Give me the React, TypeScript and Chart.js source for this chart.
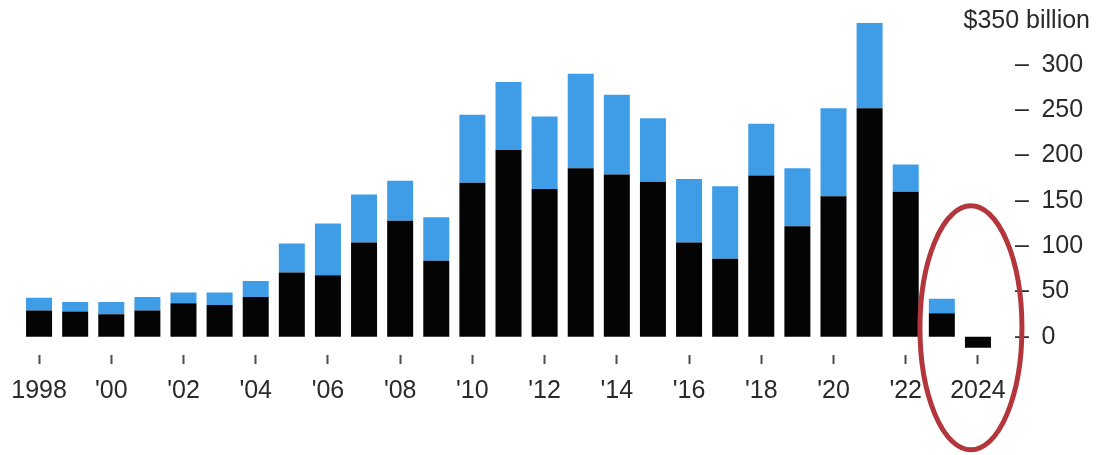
import React, { useEffect, useRef } from 'react';
import { Chart, registerables } from 'chart.js';

Chart.register(...registerables);

const years = [
  '1998', '1999', '2000', '2001', '2002', '2003', '2004', '2005', '2006',
  '2007', '2008', '2009', '2010', '2011', '2012', '2013', '2014', '2015',
  '2016', '2017', '2018', '2019', '2020', '2021', '2022', '2023', '2024',
];
const xTickLabels = [
  '1998', '', "'00", '', "'02", '', "'04", '', "'06", '', "'08", '', "'10", '',
  "'12", '', "'14", '', "'16", '', "'18", '', "'20", '', "'22", '', '2024',
];
// lower (black) segment, $ billion
const blackValues = [
  29, 28, 25, 29, 37, 35, 44, 71, 68, 104, 128, 84, 170, 206, 163, 186, 179,
  171, 104, 86, 178, 122, 155, 252, 160, 26, -12,
];
// upper (blue) segment, $ billion
const blueValues = [
  14, 10.5, 13.5, 15, 12, 14, 17.5, 32, 57, 53, 44, 48, 75, 75, 80, 104, 88,
  70, 70, 80, 57, 64, 97, 94, 30, 16, 0,
];
const yTickValues = [0, 50, 100, 150, 200, 250, 300];
const yMin = -20;
const yMax = 350;
const unitLabel = '$350 billion';
const highlightYear = '2024';

const FONT = '"Liberation Sans", Arial, Helvetica, sans-serif';
const TEXT = '#2a2a2a';

export default function App() {
  const ref = useRef<HTMLCanvasElement | null>(null);

  useEffect(() => {
    if (!ref.current) return;
    const overlay = {
      id: 'overlay',
      afterDraw(chart: any) {
        const { ctx, scales } = chart;
        const y = scales.y;
        const x = scales.x;
        ctx.save();
        // unit label at the top tick
        ctx.font = `25px ${FONT}`;
        ctx.fillStyle = TEXT;
        ctx.textAlign = 'right';
        ctx.textBaseline = 'middle';
        ctx.fillText(unitLabel, 1090, y.getPixelForValue(yMax) + 2);
        // red ellipse highlighting the latest years
        const idx = years.indexOf(highlightYear);
        const cx = x.getPixelForValue(idx) - 7;
        const cy = y.getPixelForValue(0) - 9;
        ctx.beginPath();
        ctx.ellipse(cx, cy, 51, 122, 0, 0, Math.PI * 2);
        ctx.strokeStyle = '#b2363b';
        ctx.lineWidth = 5;
        ctx.stroke();
        ctx.restore();
      },
    };

    const chart = new Chart(ref.current, {
      type: 'bar',
      data: {
        labels: years,
        datasets: [
          {
            label: 'black',
            data: blackValues,
            backgroundColor: '#040404',
            barPercentage: 0.72,
            categoryPercentage: 1,
          },
          {
            label: 'blue',
            data: blueValues,
            backgroundColor: '#3f9de8',
            barPercentage: 0.72,
            categoryPercentage: 1,
          },
        ],
      },
      options: {
        responsive: false,
        animation: false,
        layout: { padding: { left: 21, top: 19.4, right: 0, bottom: 0 } },
        plugins: {
          legend: { display: false },
          tooltip: { enabled: false },
          title: { display: false },
        },
        scales: {
          x: {
            stacked: true,
            border: { display: false },
            grid: {
              display: true,
              drawOnChartArea: false,
              offset: false,
              drawTicks: true,
              tickLength: 9,
              tickWidth: 2,
              tickColor: (c: any) =>
                xTickLabels[c.index] ? '#4a4a4a' : 'rgba(0,0,0,0)',
            },
            ticks: {
              autoSkip: false,
              maxRotation: 0,
              minRotation: 0,
              padding: 12,
              color: TEXT,
              font: { family: FONT, size: 25 },
              callback: (_v: any, i: number) => xTickLabels[i],
            },
            afterFit: (s: any) => {
              s.height = 100;
              s.paddingLeft = 0;
              s.paddingRight = 0;
            },
          },
          y: {
            stacked: true,
            position: 'right',
            min: yMin,
            max: yMax,
            border: { display: false },
            grid: { display: false, drawTicks: false },
            afterBuildTicks: (s: any) => {
              s.ticks = yTickValues.map((v) => ({ value: v }));
            },
            ticks: {
              padding: 19,
              color: TEXT,
              font: { family: FONT, size: 25 },
              callback: (v: any) => '\u2013\u2002' + v,
            },
            afterFit: (s: any) => {
              s.width = 103;
              s.paddingTop = 0;
              s.paddingBottom = 0;
            },
          },
        },
      },
      plugins: [overlay],
    });
    return () => chart.destroy();
  }, []);

  return (
    <div style={{ position: 'fixed', left: 0, top: 0, width: 1099, height: 455, background: '#fff' }}>
      <canvas ref={ref} width={1099} height={455} />
    </div>
  );
}
